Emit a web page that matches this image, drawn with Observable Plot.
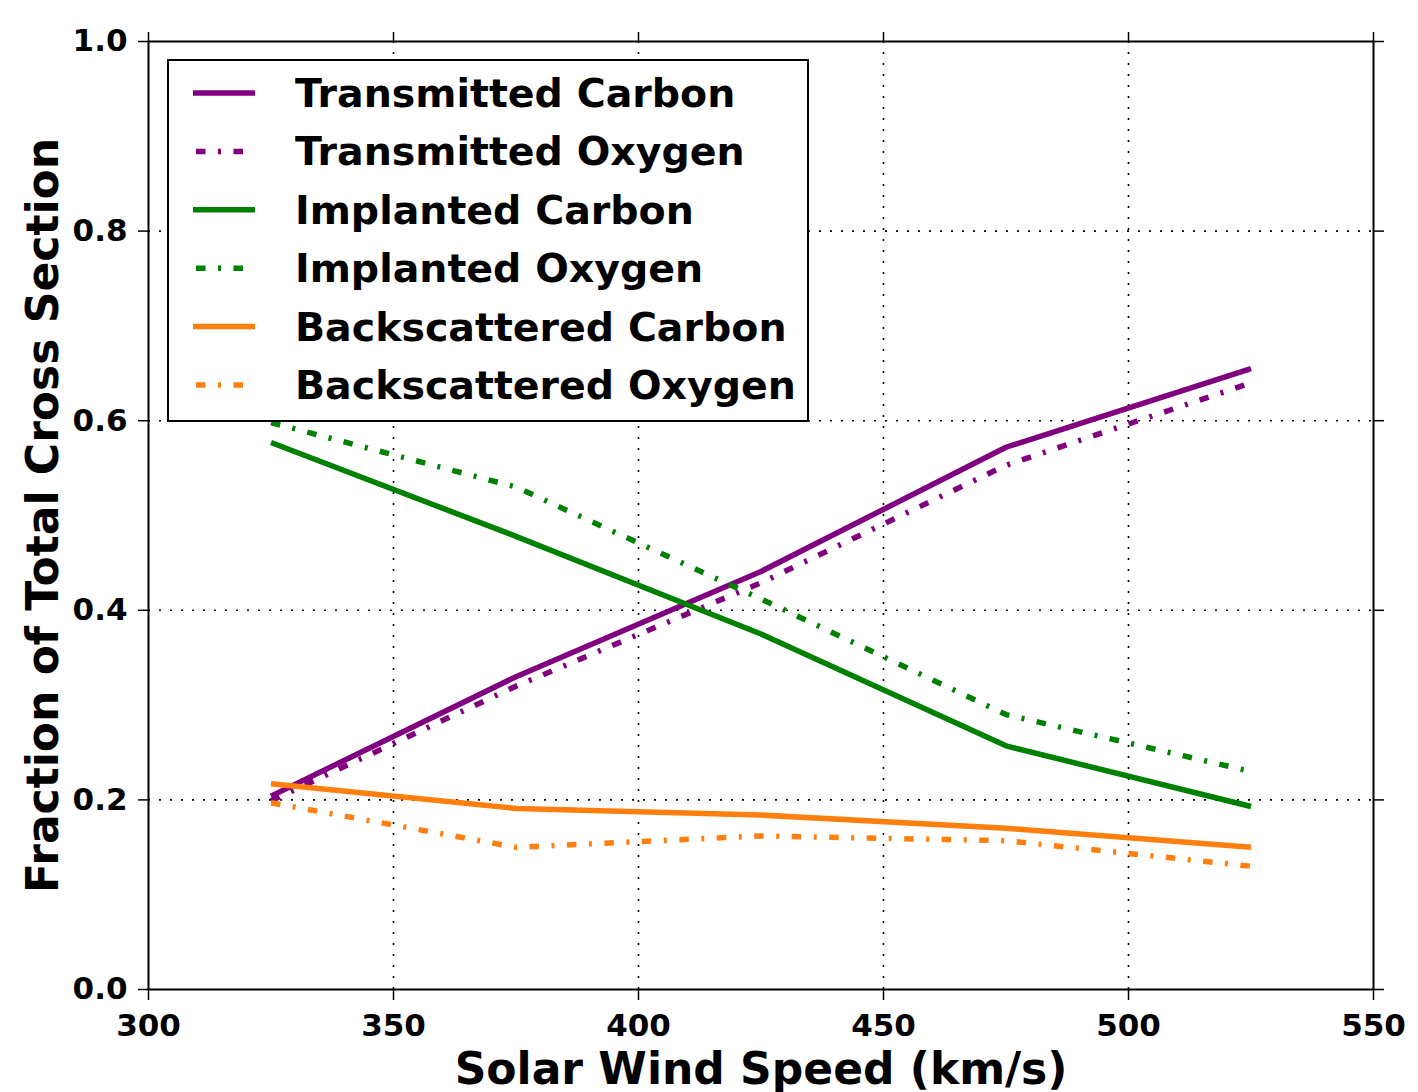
<!DOCTYPE html>
<html>
<head>
<meta charset="utf-8">
<script src="https://cdn.jsdelivr.net/npm/d3@7"></script>
<script src="https://cdn.jsdelivr.net/npm/@observablehq/plot@0.6"></script>
<style>
  html, body { margin: 0; padding: 0; background: white; }
  #wrap { position: relative; width: 1418px; height: 1092px; }
  #wrap > svg { position: absolute; left: 0; top: 0; }
</style>
</head>
<body>
<div id="wrap"></div>
<script>
// ---- data ----
const speeds = [325, 375, 425, 475, 525];
const transmittedCarbon   = [0.204, 0.330, 0.441, 0.572, 0.655];
const transmittedOxygen   = [0.199, 0.320, 0.429, 0.553, 0.640];
const implantedCarbon     = [0.577, 0.478, 0.375, 0.257, 0.193];
const implantedOxygen     = [0.598, 0.530, 0.412, 0.290, 0.230];
const backscatteredCarbon = [0.217, 0.191, 0.184, 0.170, 0.150];
const backscatteredOxygen = [0.197, 0.150, 0.162, 0.157, 0.130];

const seriesNames = ["Transmitted Carbon", "Transmitted Oxygen", "Implanted Carbon",
                     "Implanted Oxygen", "Backscattered Carbon", "Backscattered Oxygen"];
const seriesValues = [transmittedCarbon, transmittedOxygen, implantedCarbon,
                      implantedOxygen, backscatteredCarbon, backscatteredOxygen];
const xTicks = [300, 350, 400, 450, 500, 550];
const yTicks = [0.0, 0.2, 0.4, 0.6, 0.8, 1.0];
const xGridTicks = [350, 400, 450, 500];
const yGridTicks = [0.2, 0.4, 0.6, 0.8];
const xLabel = "Solar Wind Speed (km/s)";
const yLabel = "Fraction of Total Cross Section";

// ---- styles ----
const seriesColors = ["#800080", "#800080", "#008000", "#008000", "#ff7f0e", "#ff7f0e"];
const DASHDOT = "9.5,12.5,3,12.5";
const seriesDash = [null, DASHDOT, null, DASHDOT, null, DASHDOT];
const FONT = "'DejaVu Sans', 'Liberation Sans', sans-serif";

const rows = [];
seriesNames.forEach((name, i) => {
  speeds.forEach((s, j) => rows.push({series: name, speed: s, value: seriesValues[i][j]}));
});

const gridStyle = {stroke: "black", strokeOpacity: 1, strokeWidth: 1.6, strokeDasharray: "2,9"};

const lineMarks = seriesNames.map((name, i) =>
  Plot.line(rows.filter(r => r.series === name), {
    x: "speed", y: "value",
    stroke: seriesColors[i], strokeWidth: 5.5,
    strokeDasharray: seriesDash[i] || undefined,
    strokeLinecap: "butt", strokeLinejoin: "round"
  })
);

const plot = Plot.plot({
  width: 1418, height: 1092,
  marginLeft: 148, marginRight: 45, marginTop: 41, marginBottom: 103,
  x: {type: "linear", domain: [300, 550], label: null},
  y: {type: "linear", domain: [0, 1], label: null},
  style: {fontFamily: FONT, fontWeight: "bold", fontSize: "31px", color: "black", background: "white", overflow: "visible"},
  marks: [
    Plot.gridX({ticks: xGridTicks, ...gridStyle}),
    Plot.gridY({ticks: yGridTicks, ...gridStyle}),
    ...lineMarks,
    Plot.frame({stroke: "black", strokeWidth: 2}),
    Plot.axisX({anchor: "bottom", ticks: xTicks, tickSize: 11, tickPadding: 13, tickFormat: d3.format("d"), strokeWidth: 1.5, label: null, fontSize: 31}),
    Plot.axisX({anchor: "top", ticks: xTicks, tickSize: 10, tickFormat: () => "", strokeWidth: 1.5, label: null}),
    Plot.axisY({anchor: "left", ticks: yTicks, tickSize: 10, tickPadding: 11, tickFormat: d3.format(".1f"), strokeWidth: 1.5, label: null, fontSize: 31}),
    Plot.axisY({anchor: "right", ticks: yTicks, tickSize: 10, tickFormat: () => "", strokeWidth: 1.5, label: null}),
    Plot.text([xLabel], {text: d => d, frameAnchor: "bottom", dy: 80, textAnchor: "middle", lineAnchor: "middle", fontSize: 44, fontWeight: "bold", fill: "black"}),
    Plot.text([yLabel], {text: d => d, frameAnchor: "left", dx: -105, rotate: -90, textAnchor: "middle", lineAnchor: "middle", fontSize: 44, fontWeight: "bold", fill: "black"})
  ]
});

const wrap = document.getElementById("wrap");
wrap.appendChild(plot);

// ---- legend overlay ----
const lg = d3.select(wrap).append("svg")
  .attr("width", 1418).attr("height", 1092)
  .style("pointer-events", "none");
lg.append("rect")
  .attr("x", 168).attr("y", 60).attr("width", 640).attr("height", 361)
  .attr("fill", "white").attr("stroke", "black").attr("stroke-width", 2);
seriesNames.forEach((name, i) => {
  const cy = 93 + i * 58.4;
  lg.append("line")
    .attr("x1", 193).attr("x2", 255).attr("y1", cy).attr("y2", cy)
    .attr("stroke", seriesColors[i]).attr("stroke-width", 5.5)
    .attr("stroke-linecap", "butt")
    .attr("stroke-dasharray", seriesDash[i])
    .attr("stroke-dashoffset", seriesDash[i] ? -3 : null);
  lg.append("text")
    .attr("x", 295).attr("y", cy + 14)
    .attr("font-family", FONT).attr("font-weight", "bold").attr("font-size", 39.5)
    .attr("fill", "black")
    .text(name);
});
</script>
</body>
</html>
